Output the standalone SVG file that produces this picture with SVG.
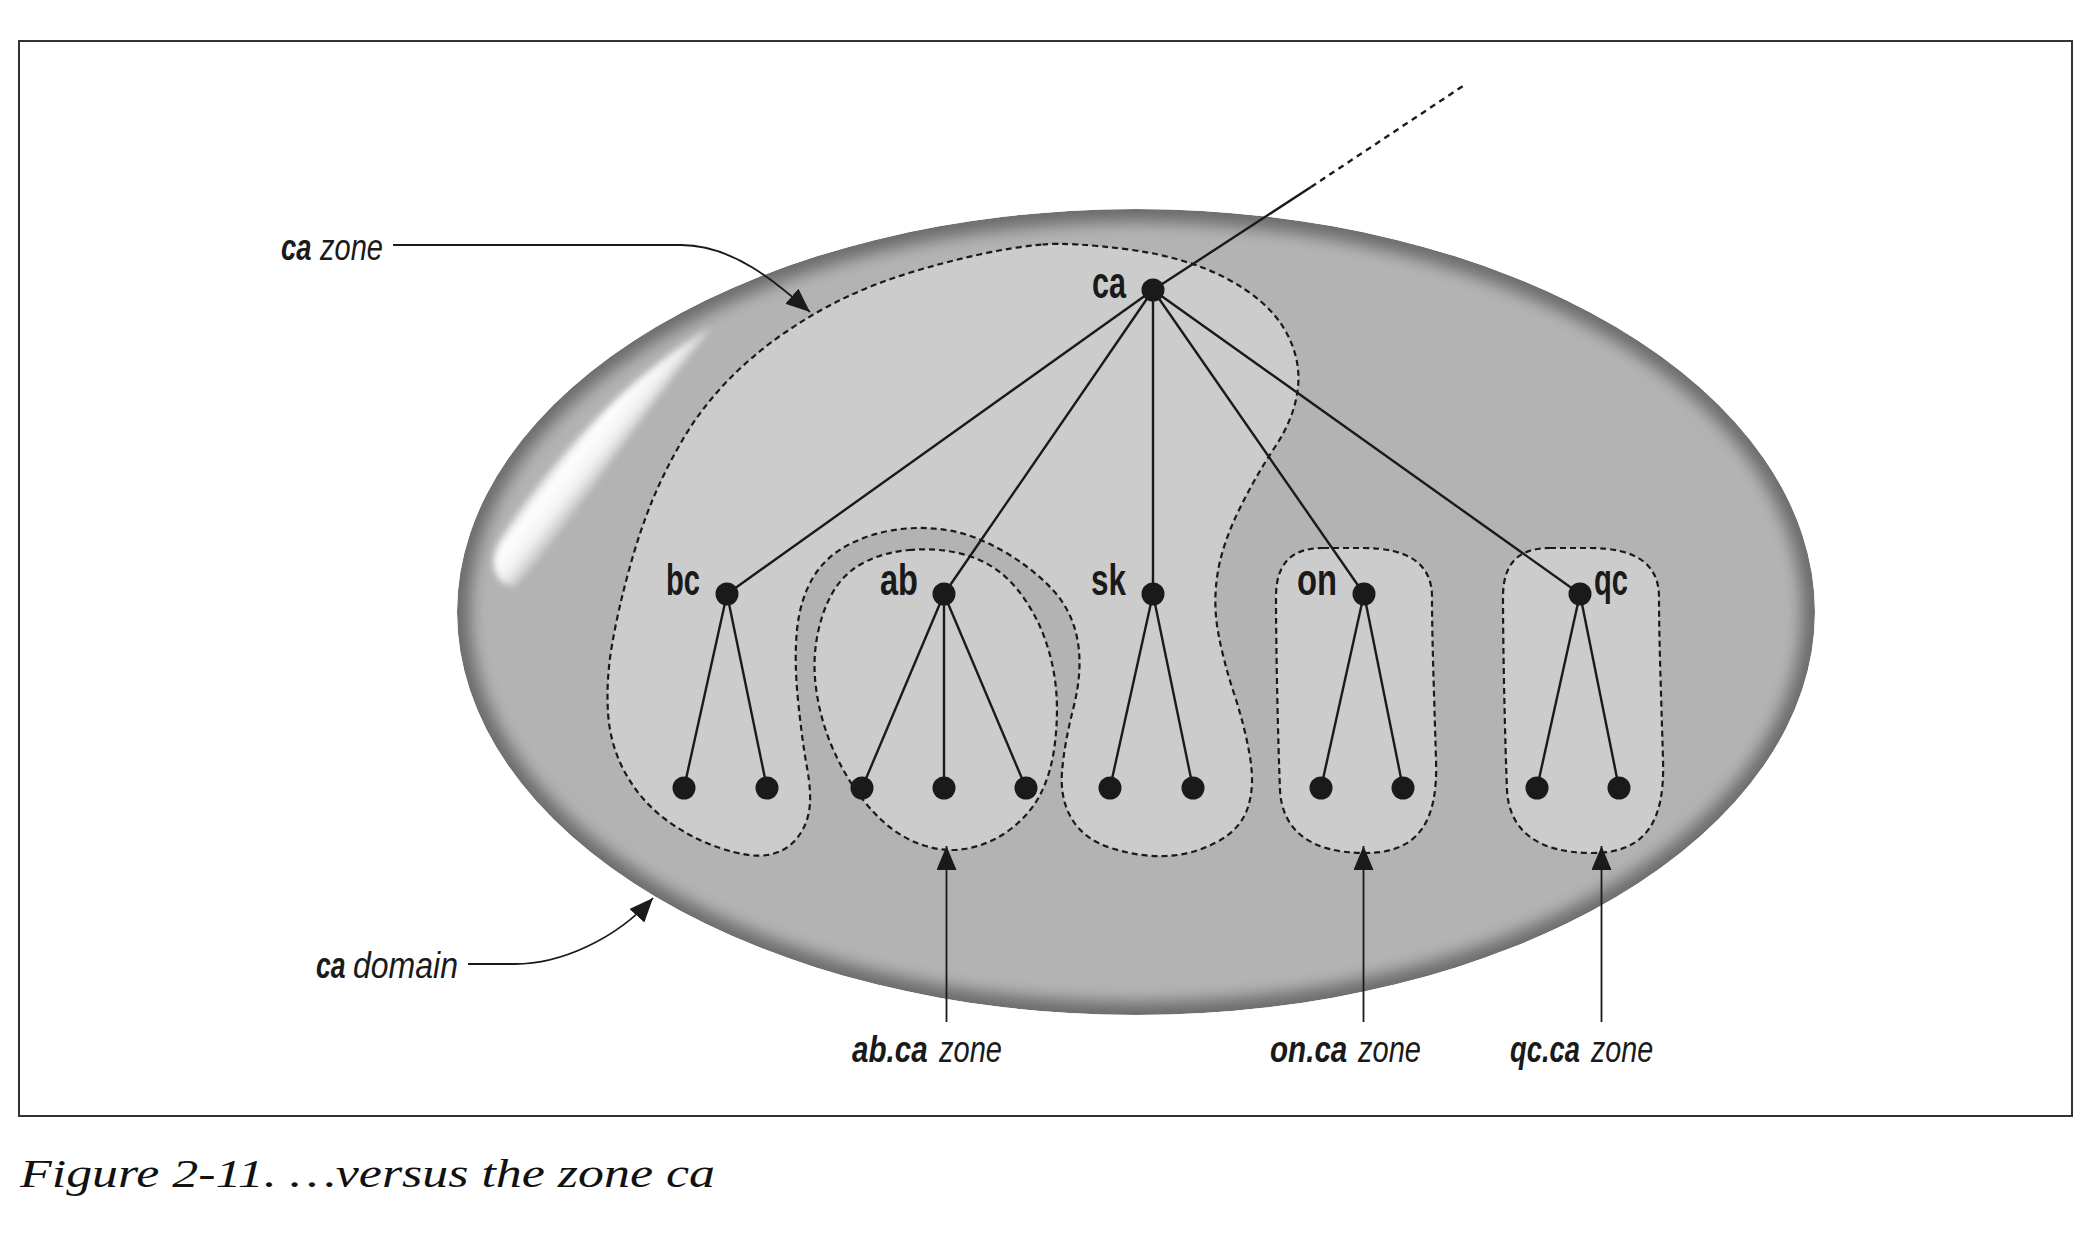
<svg xmlns="http://www.w3.org/2000/svg" width="2088" height="1242" viewBox="0 0 2088 1242">
<style>
.frame{fill:#fff;stroke:#333;stroke-width:2}
.zone{fill:#ccc;stroke:#1a1a1a;stroke-width:2.2;stroke-dasharray:6 4}
.edge{stroke:#1a1a1a;stroke-width:2.4;fill:none}
.dot{fill:#1a1a1a}
.nl{font-family:"Liberation Sans",Arial,sans-serif;font-weight:bold;font-size:44px;fill:#1a1a1a}
.al{font-family:"Liberation Sans",Arial,sans-serif;font-style:italic;font-size:37px;fill:#1a1a1a}
.alb{font-family:"Liberation Sans",Arial,sans-serif;font-style:italic;font-weight:bold;font-size:37px;fill:#1a1a1a}
.ptr{stroke:#1a1a1a;stroke-width:1.8;fill:none}
.cap{font-family:"Liberation Serif","Times New Roman",serif;font-style:italic;font-size:40px;fill:#111}
</style>
<defs>
<clipPath id="clipE"><ellipse cx="1136" cy="612" rx="679" ry="403"/></clipPath>
<filter id="blurRim" x="-10%" y="-10%" width="120%" height="120%"><feGaussianBlur stdDeviation="8"/></filter>
<filter id="blurHi" x="-30%" y="-30%" width="160%" height="160%"><feGaussianBlur stdDeviation="3"/></filter>
<linearGradient id="hiGrad" gradientUnits="userSpaceOnUse" x1="572" y1="436" x2="612" y2="467">
<stop offset="0" stop-color="#d4d4d4"/>
<stop offset="0.28" stop-color="#ffffff"/>
<stop offset="0.65" stop-color="#f2f2f2"/>
<stop offset="1" stop-color="#bdbdbd"/>
</linearGradient>
<marker id="arr" viewBox="0 0 24 20" refX="24" refY="10" markerWidth="24" markerHeight="20" markerUnits="userSpaceOnUse" orient="auto">
<path d="M0,0 L24,10 L0,20 Z" fill="#1a1a1a"/>
</marker>
</defs>
<rect width="2088" height="1242" fill="#fff"/>
<rect class="frame" x="19" y="41" width="2053" height="1075"/>

<g id="domain">
<g clip-path="url(#clipE)">
<ellipse cx="1136" cy="612" rx="679" ry="403" fill="#6c6c6c"/>
<ellipse cx="1136" cy="612" rx="666" ry="390" fill="#b3b3b3" filter="url(#blurRim)"/>
</g>
<path d="M712,327 C680,345 640,375 600,415 C560,455 525,500 500,540 C488,562 494,584 514,587 C535,568 565,525 592,488 C625,442 660,392 712,327 Z" fill="url(#hiGrad)" filter="url(#blurHi)"/>
</g>

<g id="zones">
<path id="ca-zone" class="zone" d="M1042.5,244.5 Q1071,242 1128.5,249.5 Q1186,257 1226.5,278.5 Q1267,300 1284,328.5 Q1301,357 1298,387 Q1295,417 1275,447 Q1255,477 1238.5,511 Q1222,545 1217.5,574 Q1213,603 1218,631.5 Q1223,660 1234,693.5 Q1245,727 1250,757 Q1255,787 1247.5,808.5 Q1240,830 1216,842.5 Q1192,855 1166,856 Q1140,857 1112.5,848.5 Q1085,840 1072.5,820 Q1060,800 1062,772.5 Q1064,745 1073.5,707.5 Q1083,670 1077.5,640 Q1072,610 1051.5,588.5 Q1031,567 1003,551 Q975,535 949.5,530.5 Q924,526 897.5,529.5 Q871,533 848,545 Q825,557 812.5,578.5 Q800,600 797,630 Q794,660 798,700 Q802,740 807,767.5 Q812,795 809,811.5 Q806,828 795.5,840 Q785,852 767.5,855 Q750,858 720,848 Q690,838 665,819 Q640,800 625,772.5 Q610,745 608,712.5 Q606,680 612,645 Q618,610 629,570 Q640,530 652.5,500 Q665,470 682.5,440 Q700,410 725,383.5 Q750,357 781.5,335 Q813,313 844.5,298 Q876,283 910.5,272.5 Q945,262 979.5,254.5 Q1014,247 1042.5,244.5 Z"/>
<path id="ab-zone" class="zone" d="M909,550 Q932,548 953.5,552 Q975,556 992.5,567 Q1010,578 1024.5,599 Q1039,620 1047,645 Q1055,670 1056.5,695 Q1058,720 1054.5,746.5 Q1051,773 1041,793 Q1031,813 1012,828 Q993,843 970,848 Q947,853 924,845.5 Q901,838 882,820.5 Q863,803 848,778 Q833,753 825,728 Q817,703 815,678 Q813,653 819,628 Q825,603 836.5,586.5 Q848,570 867,561 Q886,552 909,550 Z"/>
<path id="on-zone" class="zone" d="M1323,548 L1363,548 C1410,548 1432,565 1432,597 C1432,640 1434,690 1436,760 C1438,820 1420,853 1365,853 C1310,853 1282,830 1280,790 C1278,740 1276,650 1276,597 C1276,565 1290,548 1323,548 Z"/>
<path id="qc-zone" class="zone" d="M1550,548 L1590,548 C1637,548 1659,565 1659,597 C1659,640 1661,690 1663,760 C1665,820 1647,853 1592,853 C1537,853 1509,830 1507,790 C1505,740 1503,650 1503,597 C1503,565 1517,548 1550,548 Z"/>
</g>

<g id="connectors">
<line class="edge" x1="1153" y1="290" x2="1311" y2="187"/>
<line class="edge" x1="1311" y1="187" x2="1463" y2="86" stroke-dasharray="6 5"/>
<line class="edge" x1="1153" y1="290" x2="727" y2="594"/>
<line class="edge" x1="1153" y1="290" x2="944" y2="594"/>
<line class="edge" x1="1153" y1="290" x2="1153" y2="594"/>
<line class="edge" x1="1153" y1="290" x2="1364" y2="594"/>
<line class="edge" x1="1153" y1="290" x2="1580" y2="594"/>
<line class="edge" x1="727" y1="594" x2="684" y2="788"/>
<line class="edge" x1="727" y1="594" x2="767" y2="788"/>
<line class="edge" x1="944" y1="594" x2="862" y2="788"/>
<line class="edge" x1="944" y1="594" x2="944" y2="788"/>
<line class="edge" x1="944" y1="594" x2="1026" y2="788"/>
<line class="edge" x1="1153" y1="594" x2="1110" y2="788"/>
<line class="edge" x1="1153" y1="594" x2="1193" y2="788"/>
<line class="edge" x1="1364" y1="594" x2="1321" y2="788"/>
<line class="edge" x1="1364" y1="594" x2="1403" y2="788"/>
<line class="edge" x1="1580" y1="594" x2="1537" y2="788"/>
<line class="edge" x1="1580" y1="594" x2="1619" y2="788"/>
</g>

<g id="node-ca"><circle class="dot" cx="1153" cy="290" r="11.5"/><text class="nl" x="1092" y="298" textLength="34" lengthAdjust="spacingAndGlyphs">ca</text></g>
<g id="node-bc"><circle class="dot" cx="727" cy="594" r="11.5"/><text class="nl" x="666" y="595" textLength="34" lengthAdjust="spacingAndGlyphs">bc</text></g>
<g id="node-ab"><circle class="dot" cx="944" cy="594" r="11.5"/><text class="nl" x="880" y="595" textLength="38" lengthAdjust="spacingAndGlyphs">ab</text></g>
<g id="node-sk"><circle class="dot" cx="1153" cy="594" r="11.5"/><text class="nl" x="1091" y="595" textLength="35" lengthAdjust="spacingAndGlyphs">sk</text></g>
<g id="node-on"><circle class="dot" cx="1364" cy="594" r="11.5"/><text class="nl" x="1297" y="595" textLength="40" lengthAdjust="spacingAndGlyphs">on</text></g>
<g id="node-qc"><circle class="dot" cx="1580" cy="594" r="11.5"/><text class="nl" x="1594" y="595" textLength="34" lengthAdjust="spacingAndGlyphs">qc</text></g>

<g id="leaves">
<g id="leaf-bc-1"><circle class="dot" cx="684" cy="788" r="11.5"/></g>
<g id="leaf-bc-2"><circle class="dot" cx="767" cy="788" r="11.5"/></g>
<g id="leaf-ab-1"><circle class="dot" cx="862" cy="788" r="11.5"/></g>
<g id="leaf-ab-2"><circle class="dot" cx="944" cy="788" r="11.5"/></g>
<g id="leaf-ab-3"><circle class="dot" cx="1026" cy="788" r="11.5"/></g>
<g id="leaf-sk-1"><circle class="dot" cx="1110" cy="788" r="11.5"/></g>
<g id="leaf-sk-2"><circle class="dot" cx="1193" cy="788" r="11.5"/></g>
<g id="leaf-on-1"><circle class="dot" cx="1321" cy="788" r="11.5"/></g>
<g id="leaf-on-2"><circle class="dot" cx="1403" cy="788" r="11.5"/></g>
<g id="leaf-qc-1"><circle class="dot" cx="1537" cy="788" r="11.5"/></g>
<g id="leaf-qc-2"><circle class="dot" cx="1619" cy="788" r="11.5"/></g>
</g>

<g id="pointers">
<path class="ptr" d="M393,245 H681 C735,245 780,286 810,312" marker-end="url(#arr)"/>
<path class="ptr" d="M468,964 H515 C560,964 615,940 653,898" marker-end="url(#arr)"/>
<path class="ptr" d="M946.5,1022 V846" marker-end="url(#arr)"/>
<path class="ptr" d="M1363.5,1022 V846" marker-end="url(#arr)"/>
<path class="ptr" d="M1601.5,1022 V846" marker-end="url(#arr)"/>
</g>

<g id="annotations">
<text class="alb" transform="translate(281,260) scale(0.74,1)">ca</text>
<text class="al" transform="translate(320,260) scale(0.785,1)">zone</text>
<text class="alb" transform="translate(316,978) scale(0.72,1)">ca</text>
<text class="al" transform="translate(353,978) scale(0.866,1)">domain</text>
<text class="alb" transform="translate(852,1062) scale(0.8,1)">ab.ca</text>
<text class="al" transform="translate(939,1062) scale(0.785,1)">zone</text>
<text class="alb" transform="translate(1270,1062) scale(0.8,1)">on.ca</text>
<text class="al" transform="translate(1358,1062) scale(0.785,1)">zone</text>
<text class="alb" transform="translate(1510,1062) scale(0.74,1)">qc.ca</text>
<text class="al" transform="translate(1591,1062) scale(0.775,1)">zone</text>
</g>

<text class="cap" x="20" y="1187" textLength="695" lengthAdjust="spacingAndGlyphs">Figure 2-11. …versus the zone ca</text>
</svg>
